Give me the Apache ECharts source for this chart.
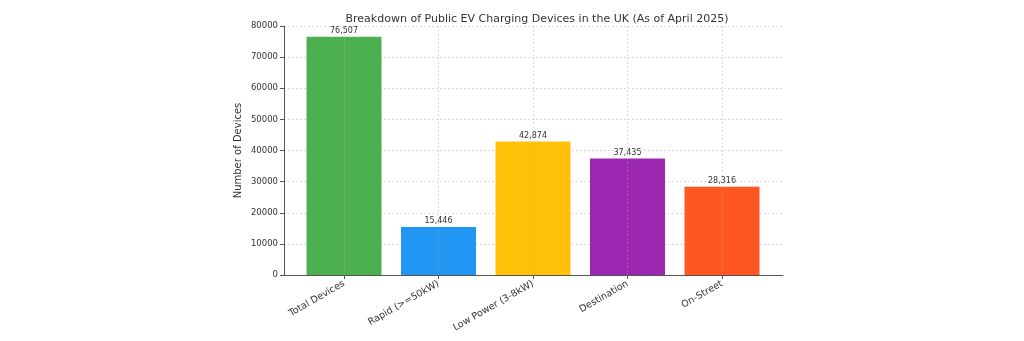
<!DOCTYPE html>
<html>
<head>
    <meta charset="utf-8">
    <title>EV Charging Devices</title>
    <script src="https://cdn.jsdelivr.net/npm/echarts@6/dist/echarts.min.js"></script>
    <style>
        html, body { margin: 0; padding: 0; background: #fff; }
    </style>
</head>
<body>
    <div id='main' style='width: 1024px;height:341px;'></div>
    <script>
        // chart data
        var categories = ["Total Devices", "Rapid (>=50kW)", "Low Power (3-8kW)", "Destination", "On-Street"];
        var deviceCounts = [76507, 15446, 42874, 37435, 28316];
        var barColors = ["#4CAF50", "#2196F3", "#FFC107", "#9C27B0", "#FF5722"];
        var yTicks = [0, 10000, 20000, 30000, 40000, 50000, 60000, 70000, 80000];

        var font = "DejaVu Sans";
        var myChart = echarts.init(document.getElementById('main'));

        myChart.setOption({
            animation: false,
            title: {
                text: "Breakdown of Public EV Charging Devices in the UK (As of April 2025)",
                left: 532, top: 9, textAlign: 'center',
                textStyle: { fontFamily: font, fontSize: 11, fontWeight: 'normal', color: '#333' }
            },
            grid: [
                // outer frame: full axes box
                { left: 284, right: 241, top: 26, bottom: 66 },
                // bars: first and last category centres
                { left: 344, right: 302, top: 26, bottom: 66 }
            ],
            xAxis: [
                {
                    gridIndex: 0, type: 'value', min: 0, max: 1,
                    axisLine: { show: true, lineStyle: { color: '#555', width: 1 } },
                    axisTick: { show: false }, axisLabel: { show: false }, splitLine: { show: false }
                },
                {
                    gridIndex: 1, type: 'category', data: categories, boundaryGap: false, z: 5,
                    axisLine: { show: false },
                    axisTick: { show: true, length: 4, lineStyle: { color: '#555' } },
                    axisLabel: { rotate: 30, fontFamily: font, fontSize: 9.5, color: '#333', margin: 8 },
                    splitLine: { show: true, lineStyle: { color: 'rgba(170,170,170,0.45)', type: [2, 2] } }
                }
            ],
            yAxis: [
                {
                    gridIndex: 0, type: 'value', min: yTicks[0], max: yTicks[yTicks.length - 1], interval: 10000,
                    name: 'Number of Devices', nameLocation: 'middle', nameGap: 41, nameMoveOverlap: false,
                    nameTextStyle: { fontFamily: font, fontSize: 10, color: '#333' },
                    axisLine: { show: true, lineStyle: { color: '#555', width: 1 } },
                    axisTick: { show: true, length: 4, lineStyle: { color: '#555' } },
                    axisLabel: { fontFamily: font, fontSize: 8.5, color: '#333', margin: 6,
                        formatter: function (v) { return String(v); } },
                    splitLine: { show: true, lineStyle: { color: 'rgba(170,170,170,0.45)', type: [2, 2] } }
                },
                {
                    gridIndex: 1, type: 'value', min: yTicks[0], max: yTicks[yTicks.length - 1], interval: 10000,
                    show: false, splitLine: { show: false }
                }
            ],
            series: [{
                type: 'bar',
                xAxisIndex: 1, yAxisIndex: 1,
                barWidth: 75,
                data: deviceCounts.map(function (v, i) {
                    return { value: v, itemStyle: { color: barColors[i] } };
                }),
                label: {
                    show: true, position: 'top', distance: 2,
                    fontFamily: font, fontSize: 8, color: '#333',
                    formatter: function (p) { return p.value.toLocaleString('en-US'); }
                }
            }]
        });
    </script>
</body>
</html>
